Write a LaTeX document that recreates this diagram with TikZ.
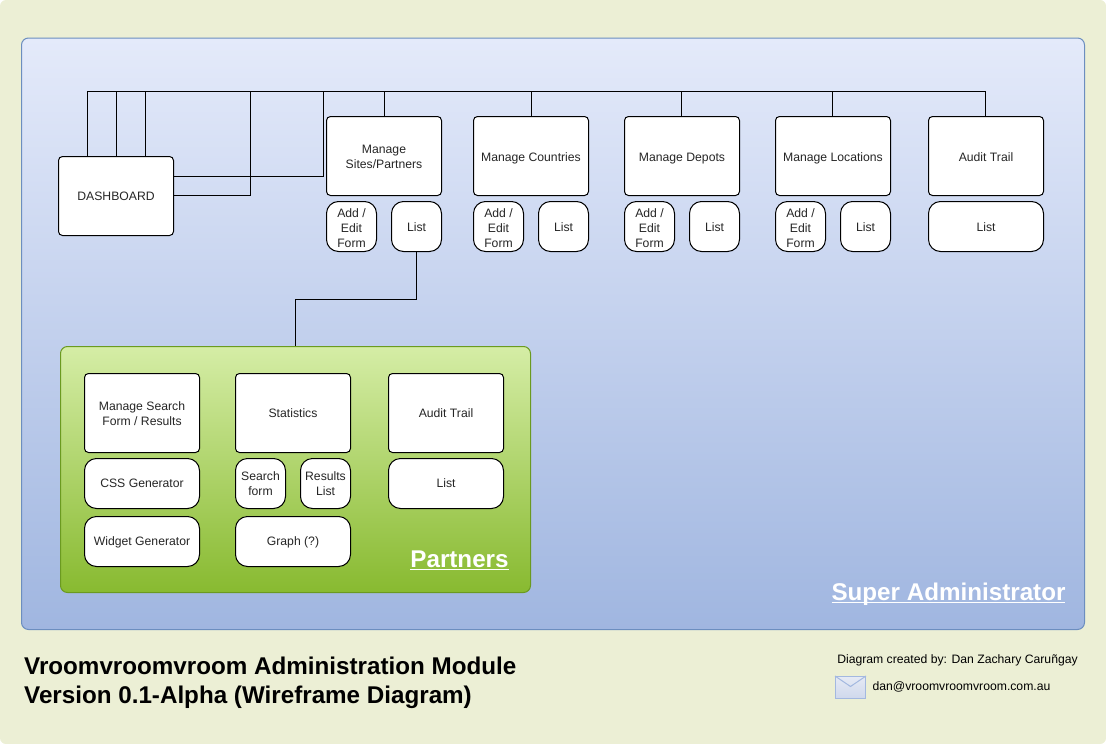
\documentclass[tikz,border=0pt]{standalone}
\usepackage{fontspec}
\setmainfont{Liberation Sans}
\usetikzlibrary{shapes}
\definecolor{pagebg}{HTML}{ECEFD5}
\definecolor{admintop}{HTML}{E4EAFA}
\definecolor{adminbot}{HTML}{A0B6E0}
\definecolor{adminln}{HTML}{6C8EBF}
\definecolor{partnertop}{HTML}{D5EDA6}
\definecolor{partnerbot}{HTML}{88BA30}
\definecolor{partnerln}{HTML}{6B9A20}
\definecolor{mailtop}{HTML}{E6EAF5}
\definecolor{mailbot}{HTML}{CFD8EC}
\definecolor{mailln}{HTML}{A3B8E0}
\newcommand{\botstrut}{\rule[-2pt]{0pt}{2pt}}
\newcommand{\titleline}[1]{\underline{\smash{#1}\rule[-.8pt]{0pt}{17pt}}}
\tikzset{
  every node/.style={font=\fontsize{12.2}{15}\selectfont, text=black!85, align=center, inner sep=0pt},
  lift/.style={execute at begin node=\rule{0pt}{#1pt}},
  pagebox/.style={draw=black, line width=1pt, fill=white, rounded corners=4pt, minimum width=115pt, minimum height=79pt,
    lift=10, execute at end node=\botstrut},
  formbox/.style={draw=black, line width=1pt, fill=white, rounded corners=12pt, minimum width=50pt, minimum height=50pt,
    lift=10, execute at end node=\botstrut},
  widebox/.style={formbox, minimum width=115pt},
  link/.style={draw=black, line width=1pt},
  title/.style={font=\fontsize{24.2}{28}\selectfont\bfseries, text=white}
}
\begin{document}
\begin{tikzpicture}[x=1pt,y=-1pt]
  \useasboundingbox (0,0) rectangle (1106,744);
  \fill[pagebg, rounded corners=6pt] (0,0) rectangle (1106,744);
  % panels
  \node (admin) at (553,333.75) [draw=adminln, line width=1pt, rounded corners=7pt, top color=admintop, bottom color=adminbot, minimum width=1063pt, minimum height=591.5pt] {};
  \node (partner) at (295.5,469.5) [draw=partnerln, line width=1pt, rounded corners=7pt, top color=partnertop, bottom color=partnerbot, minimum width=470pt, minimum height=246pt] {};
  % top row
  \node (dashboard) at (116,196) [pagebox] {DASHBOARD};
  \node (sites) at (384,156) [pagebox, lift=26] {Manage\\Sites/Partners};
  \node (countries) at (531,156) [pagebox, lift=14] {Manage Countries};
  \node (depots) at (682,156) [pagebox, lift=14] {Manage Depots};
  \node (locations) at (833,156) [pagebox, lift=14] {Manage Locations};
  \node (trail) at (986,156) [pagebox, lift=12] {Audit Trail};
  % forms below the top row
  \node (sitesadd) at (351.5,226.5) [formbox, lift=43] {Add /\\Edit\\Form};
  \node (siteslist) at (416.5,226.5) [formbox, lift=12] {List};
  \node (countriesadd) at (498.5,226.5) [formbox, lift=43] {Add /\\Edit\\Form};
  \node (countrieslist) at (563.5,226.5) [formbox, lift=12] {List};
  \node (depotsadd) at (649.5,226.5) [formbox, lift=43] {Add /\\Edit\\Form};
  \node (depotslist) at (714.5,226.5) [formbox, lift=12] {List};
  \node (locationsadd) at (800.5,226.5) [formbox, lift=43] {Add /\\Edit\\Form};
  \node (locationslist) at (865.5,226.5) [formbox, lift=12] {List};
  \node (traillist) at (986,226.5) [widebox, lift=12] {List};
  % partners
  \node (search) at (142,413) [pagebox, lift=26] {Manage Search\\Form / Results};
  \node (stats) at (293,413) [pagebox] {Statistics};
  \node (ptrail) at (446,413) [pagebox] {Audit Trail};
  \node (css) at (142,483.5) [widebox] {CSS Generator};
  \node (widget) at (142,541.5) [widebox] {Widget Generator};
  \node (searchform) at (260.5,483.5) [formbox, lift=26] {Search\\form};
  \node (results) at (325.5,483.5) [formbox, lift=26] {Results\\List};
  \node (graph) at (293,541.5) [widebox] {Graph (?)};
  \node (ptraillist) at (446,483.5) [widebox] {List};
  % connectors
  \coordinate (bus) at (0,91.5);
  \coordinate (dashA) at (250.5,195.5);
  \coordinate (dashB) at (323.5,176.5);
  \draw[link] ([xshift=-28.5pt]dashboard.north) |- ([xshift=-.5pt]trail.north |- bus) -- ([xshift=-.5pt]trail.north);
  \foreach \n/\s in {sites/.5,countries/.5,depots/-.5,locations/-.5}
    \draw[link] ([xshift=\s pt]\n.north) -- ([xshift=\s pt]\n.north |- bus);
  \draw[link] ([xshift=.5pt]dashboard.north) -- ([xshift=.5pt]dashboard.north |- bus);
  \draw[link] ([xshift=29.5pt]dashboard.north) -- ([xshift=29.5pt]dashboard.north |- bus);
  \draw[link] (dashboard.east |- dashB) -- (dashB) -- (dashB |- bus);
  \draw[link] (dashboard.east |- dashA) -- (dashA) -- (dashA |- bus);
  \draw[link] (siteslist.south) |- (partner.north |- 0,299.5) -- (partner.north);
  % labels
  \node (superadmin) at (948.5,593.3) [title] {\titleline{Super Administrator}};
  \node (partnerlabel) at (459.5,560.3) [title] {\titleline{Partners}};
  \node (heading) at (24,683) [anchor=west, align=left, font=\fontsize{24.2}{29}\selectfont\bfseries, text=black] {Vroomvroomvroom Administration Module\\Version 0.1-Alpha (Wireframe Diagram)};
  \node (credit) at (957.5,660) [text=black] {Diagram created by: Dan Zachary Caruñgay};
  \node (email) at (961.5,687) [text=black] {dan@vroomvroomvroom.com.au};
  % envelope
  \node (mailicon) at (850.5,687.5) [draw=mailln, line width=1pt, top color=mailtop, bottom color=mailbot, minimum width=30pt, minimum height=22pt] {};
  \draw[mailln, line width=1pt] (mailicon.north west) -- ([yshift=1pt]mailicon.center) -- (mailicon.north east);
\end{tikzpicture}
\end{document}
